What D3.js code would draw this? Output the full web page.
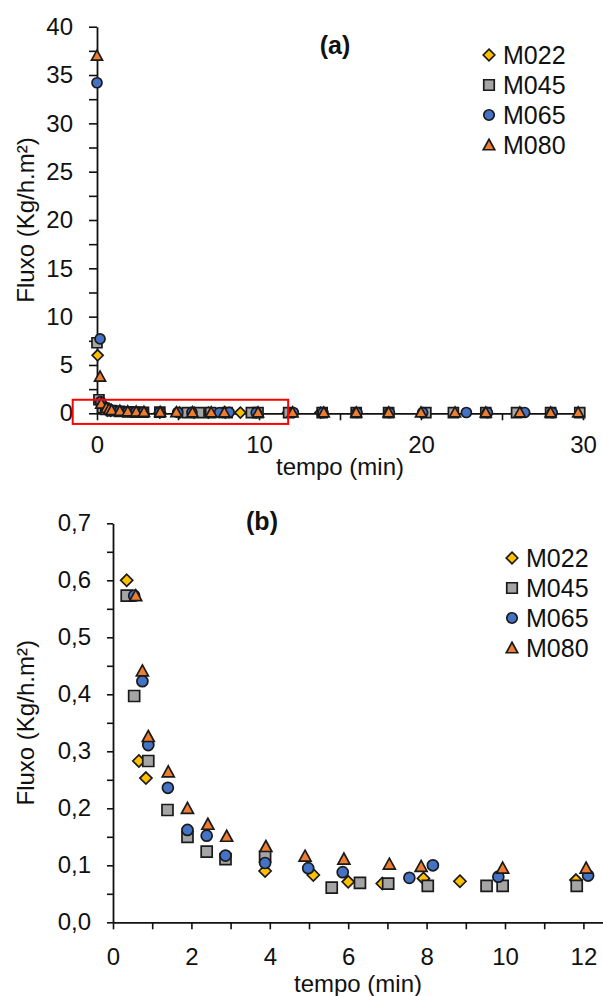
<!DOCTYPE html>
<html>
<head>
<meta charset="utf-8">
<script src="https://cdn.jsdelivr.net/npm/d3@7"></script>
<style>
  body { margin: 0; background: #fff; }
  svg text { font-family: "Liberation Sans", Arial, sans-serif; fill: #111; }
</style>
</head>
<body>
<svg id="chart" width="603" height="996"></svg>
<script>
// series (tempo in min, fluxo in Kg/h.m2)
var seriesNames = ["M022", "M045", "M065", "M080"];

var tempoM022 = [0.04, 0.15, 0.35, 0.66, 0.84, 3.88, 5.11, 6.00, 6.87, 7.92, 8.85, 11.81, 13.80];
var fluxoM022 = [6.0, 1.10, 0.600, 0.283, 0.253, 0.090, 0.083, 0.071, 0.068, 0.077, 0.072, 0.074, 0.070];

var tempoM045 = [0.00, 0.12, 0.35, 0.54, 0.90, 1.39, 1.90, 2.39, 2.87, 3.88, 5.58, 6.30, 7.02, 8.03, 9.53, 9.94, 11.83, 13.90, 16.00, 18.00, 20.30, 22.00, 24.00, 25.90, 28.00, 29.80];
var fluxoM045 = [7.3, 1.40, 0.573, 0.397, 0.283, 0.197, 0.150, 0.124, 0.111, 0.115, 0.061, 0.069, 0.068, 0.064, 0.064, 0.064, 0.064, 0.065, 0.066, 0.064, 0.065, 0.066, 0.064, 0.065, 0.064, 0.065];

var tempoM065 = [0.00, 0.19, 0.22, 0.54, 0.75, 0.90, 1.40, 1.90, 2.39, 2.87, 3.88, 4.98, 5.86, 7.56, 8.16, 9.83, 12.12, 13.95, 16.05, 18.05, 20.10, 22.80, 24.10, 26.40, 28.10, 30.20];
var fluxoM065 = [34.2, 7.7, 1.20, 0.573, 0.423, 0.311, 0.236, 0.162, 0.152, 0.117, 0.104, 0.095, 0.088, 0.078, 0.100, 0.080, 0.082, 0.080, 0.081, 0.079, 0.080, 0.082, 0.080, 0.081, 0.080, 0.081];

var tempoM080 = [0.00, 0.19, 0.26, 0.58, 0.75, 0.90, 1.41, 1.90, 2.42, 2.90, 3.90, 4.90, 5.89, 7.05, 7.86, 9.94, 12.07, 14.00, 16.00, 18.00, 20.00, 22.10, 24.00, 26.10, 28.00, 29.70];
var fluxoM080 = [37.0, 3.8, 1.00, 0.573, 0.441, 0.326, 0.264, 0.200, 0.172, 0.151, 0.133, 0.116, 0.111, 0.102, 0.098, 0.095, 0.095, 0.094, 0.093, 0.092, 0.092, 0.091, 0.092, 0.091, 0.090, 0.090];

// ticks
var yTicksA = d3.range(0, 40.1, 2.5);
var xTicksA = d3.range(0, 30.1, 5);
var yTicksB = d3.range(0, 0.701, 0.05);
var xTicksB = d3.range(0, 12.1, 1);

// area marked in red on panel (a): [t0, t1, f0, f1]
var zoomBox = [-1.5, 11.8, -1.1, 1.4];

var tempo = {"M022": tempoM022, "M045": tempoM045, "M065": tempoM065, "M080": tempoM080};
var fluxo = {"M022": fluxoM022, "M045": fluxoM045, "M065": fluxoM065, "M080": fluxoM080};
var fillColor = {"M022": "#ffc000", "M045": "#a5a5a5", "M065": "#4472c4", "M080": "#ed7d31"};
var shape = {"M022": "diamond", "M045": "square", "M065": "circle", "M080": "triangle"};

var data = seriesNames.map(function(name) {
  return {name: name, points: tempo[name].map(function(t, i) { return {t: t, f: fluxo[name][i]}; })};
});

var ptBR = d3.formatLocale({decimal: ",", thousands: ".", grouping: [3], currency: ["", ""]});

var svg = d3.select("#chart");

function markerPath(kind, s) {
  var h = s / 2;
  if (kind == "diamond") { h = s * 0.55; return "M0," + (-h) + "L" + h + ",0L0," + h + "L" + (-h) + ",0Z"; }
  if (kind == "square") return "M" + (-h) + "," + (-h) + "h" + s + "v" + s + "h" + (-s) + "Z";
  if (kind == "triangle") return "M0," + (-h - 0.5) + "L" + (h + 0.5) + "," + (h - 0.5) + "L" + (-h - 0.5) + "," + (h - 0.5) + "Z";
  return "M" + h + ",0A" + h + "," + h + " 0 1,1 " + (-h) + ",0A" + h + "," + h + " 0 1,1 " + h + ",0Z";
}

function styleAxis(g) {
  g.select(".domain").attr("stroke", "#111").attr("stroke-width", 1.8);
  g.selectAll(".tick line").attr("stroke", "#111").attr("stroke-width", 1.6);
  g.selectAll(".tick text").attr("fill", "#111").style("font-size", "24px")
    .style("font-family", "'Liberation Sans', Arial, sans-serif");
}

function drawPanel(opt) {
  var x = opt.x, y = opt.y;

  var gx = svg.append("g")
    .attr("transform", "translate(0," + y(0) + ")")
    .call(d3.axisBottom(x).tickValues(opt.xTicks).tickSize(7).tickSizeOuter(0)
      .tickPadding(opt.xPad).tickFormat(opt.xFormat));
  styleAxis(gx);

  var gy = svg.append("g")
    .attr("transform", "translate(" + x(0) + ",0)")
    .call(d3.axisLeft(y).tickValues(opt.yTicks).tickSize(opt.ySize).tickSizeOuter(0)
      .tickPadding(16).tickFormat(opt.yFormat));
  styleAxis(gy);

  var xd = x.domain(), yd = y.domain();
  data.forEach(function(s) {
    svg.append("g")
      .selectAll("path")
      .data(s.points.filter(function(p) { return p.t >= xd[0] && p.t <= xd[1] && p.f >= yd[0] && p.f <= yd[1]; }))
      .enter()
      .append("path")
      .attr("transform", function(p) { return "translate(" + x(p.t) + "," + y(p.f) + ")"; })
      .attr("d", markerPath(shape[s.name], opt.size))
      .attr("fill", fillColor[s.name])
      .attr("stroke", "#1a1a1a")
      .attr("stroke-width", 1.7);
  });

  // legend
  var leg = svg.append("g");
  seriesNames.forEach(function(name, i) {
    var ly = opt.legY + i * opt.legStep;
    leg.append("path")
      .attr("transform", "translate(" + opt.legX + "," + ly + ")")
      .attr("d", markerPath(shape[name], 10.5))
      .attr("fill", fillColor[name])
      .attr("stroke", "#1a1a1a")
      .attr("stroke-width", 1.7);
    leg.append("text")
      .attr("x", opt.legX + 14)
      .attr("y", ly)
      .attr("dy", "0.36em")
      .style("font-size", "25px")
      .text(name);
  });

  svg.append("text")
    .attr("x", opt.titleX).attr("y", opt.titleY).attr("dy", "0.36em")
    .attr("text-anchor", "middle")
    .style("font-size", "25px").style("font-weight", "bold")
    .text(opt.title);

  svg.append("text")
    .attr("x", (x.range()[0] + x.range()[1]) / 2).attr("y", opt.xLabelY).attr("dy", "0.36em")
    .attr("text-anchor", "middle")
    .style("font-size", "24px")
    .text("tempo (min)");

  svg.append("text")
    .attr("transform", "translate(25," + (y.range()[0] + y.range()[1]) / 2 + ") rotate(-90)")
    .attr("dy", "0.36em")
    .attr("text-anchor", "middle")
    .style("font-size", "24px")
    .text("Fluxo (Kg/h.m²)");
}

// panel (a)
var xA = d3.scaleLinear().domain([0, 30]).range([97, 583]);
var yA = d3.scaleLinear().domain([0, 40]).range([413.3, 26.7]);

drawPanel({
  x: xA, y: yA,
  xTicks: xTicksA, yTicks: yTicksA, ySize: 8, xPad: 16,
  xFormat: function(d) { return d % 10 == 0 ? d : ""; },
  yFormat: function(d) { return d % 5 == 0 ? d : ""; },
  size: 10,
  legX: 489, legY: 55, legStep: 30,
  title: "(a)", titleX: 335, titleY: 45,
  xLabelY: 466
});

svg.append("rect")
  .attr("x", xA(zoomBox[0]))
  .attr("y", yA(zoomBox[3]))
  .attr("width", xA(zoomBox[1]) - xA(zoomBox[0]))
  .attr("height", yA(zoomBox[2]) - yA(zoomBox[3]))
  .attr("fill", "none")
  .attr("stroke", "#ff0000")
  .attr("stroke-width", 2);

// panel (b)
var xB = d3.scaleLinear().domain([0, 12.5]).range([113, 603]);
var yB = d3.scaleLinear().domain([0, 0.7]).range([922.3, 523.3]);

drawPanel({
  x: xB, y: yB,
  xTicks: xTicksB, yTicks: yTicksB, ySize: 6, xPad: 19,
  xFormat: function(d) { return d % 2 == 0 ? d : ""; },
  yFormat: function(d) { return Math.round(d * 100) % 10 == 0 ? ptBR.format(".1f")(d) : ""; },
  size: 11,
  legX: 512, legY: 558, legStep: 30,
  title: "(b)", titleX: 262, titleY: 521,
  xLabelY: 983
});
</script>
</body>
</html>
